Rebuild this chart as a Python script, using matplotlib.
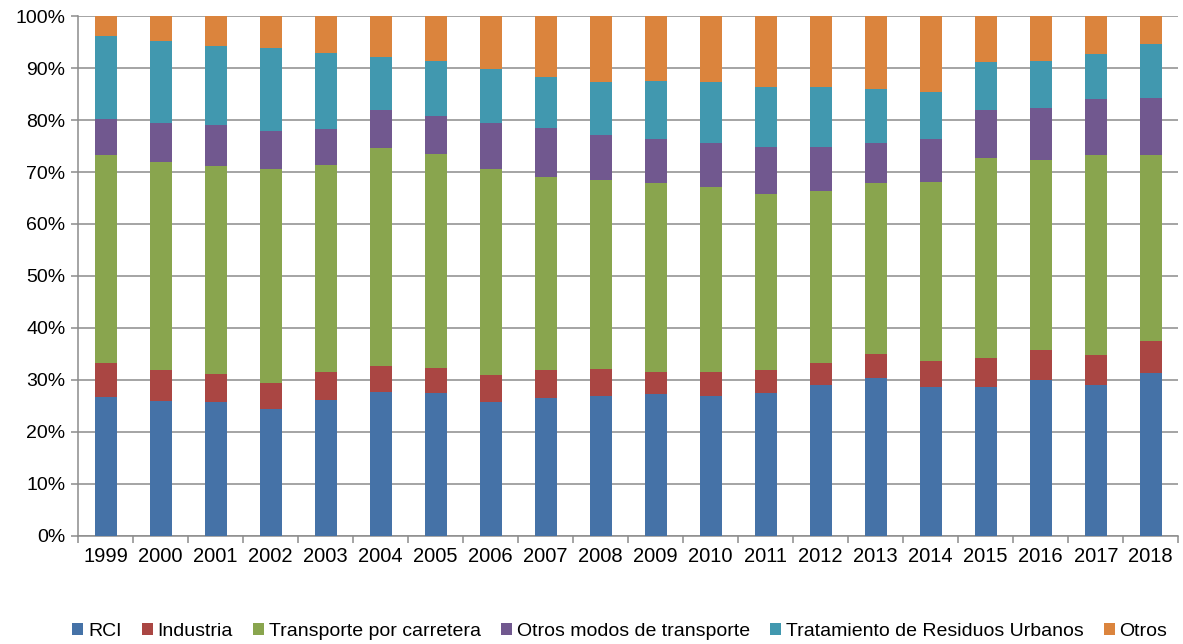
import matplotlib.pyplot as plt
import numpy as np
from matplotlib.ticker import FuncFormatter, FixedLocator

plt.rcParams['font.family'] = ['Liberation Sans', 'DejaVu Sans']

years = [str(y) for y in range(1999, 2019)]

# share of each sector (%)
rci = [26.7, 26.0, 25.7, 24.4, 26.2, 27.6, 27.4, 25.8, 26.6, 26.9,
       27.3, 26.9, 27.5, 29.0, 30.3, 28.6, 28.7, 30.0, 29.1, 31.4]
industria = [6.6, 6.0, 5.4, 5.0, 5.4, 5.0, 4.9, 5.1, 5.3, 5.2,
             4.3, 4.6, 4.5, 4.2, 4.6, 5.0, 5.5, 5.7, 5.7, 6.0]
transporte_carretera = [40.0, 40.0, 40.1, 41.2, 39.8, 42.0, 41.1, 39.6, 37.2, 36.3,
                        36.3, 35.7, 33.8, 33.1, 32.9, 34.4, 38.4, 36.7, 38.4, 35.8]
otros_modos = [6.9, 7.5, 7.8, 7.3, 6.8, 7.4, 7.4, 9.0, 9.4, 8.8,
               8.5, 8.4, 9.0, 8.5, 7.8, 8.3, 9.4, 10.0, 10.8, 11.1]
residuos = [15.9, 15.7, 15.3, 16.0, 14.7, 10.1, 10.5, 10.3, 9.8, 10.2,
            11.2, 11.7, 11.5, 11.5, 10.3, 9.1, 9.1, 8.9, 8.8, 10.3]
otros = [3.9, 4.8, 5.7, 6.1, 7.1, 7.9, 8.7, 10.2, 11.7, 12.6,
         12.4, 12.7, 13.7, 13.7, 14.1, 14.6, 8.9, 8.7, 7.2, 5.4]

series = [
    ('RCI', rci, '#4572A7'),
    ('Industria', industria, '#AA4643'),
    ('Transporte por carretera', transporte_carretera, '#89A54E'),
    ('Otros modos de transporte', otros_modos, '#71588F'),
    ('Tratamiento de Residuos Urbanos', residuos, '#4198AF'),
    ('Otros', otros, '#DB843D'),
]

fig = plt.figure(figsize=(11.83, 6.44), dpi=100)
ax = fig.add_axes([0.066, 0.168, 0.93, 0.807])

x = np.arange(len(years))
bottom = np.zeros(len(years))
for name, vals, col in series:
    vals = np.array(vals)
    ax.bar(x, vals, 0.4, bottom=bottom, color=col, label=name, zorder=3, linewidth=0)
    bottom = bottom + vals

ax.set_ylim(0, 100)
ax.set_xlim(-0.5, len(years) - 0.5)
ax.set_yticks(np.arange(0, 101, 10))
ax.yaxis.set_major_formatter(FuncFormatter(lambda v, p: '%d%%' % v))
ax.grid(axis='y', color='#8c8c8c', linewidth=1.1, zorder=0)
ax.set_xticks(x)
ax.set_xticklabels(years)
ax.xaxis.set_minor_locator(FixedLocator(np.arange(-0.5, len(years), 1)))
ax.tick_params(axis='x', which='major', length=0, labelsize=14.5, pad=8)
ax.tick_params(axis='x', which='minor', length=5, color='#8c8c8c', width=1.1)
ax.tick_params(axis='y', length=5, color='#8c8c8c', width=1.1, labelsize=14, pad=4)

for s in ['top', 'right']:
    ax.spines[s].set_visible(False)
for s in ['left', 'bottom']:
    ax.spines[s].set_color('#8c8c8c')
    ax.spines[s].set_linewidth(1.1)

fig.legend(loc='center', bbox_to_anchor=(0.524, 0.02), ncol=6, frameon=False,
           fontsize=14, handlelength=0.55, handleheight=0.55, handletextpad=0.25,
           columnspacing=1.05)

fig.savefig('out.png', dpi=100)
